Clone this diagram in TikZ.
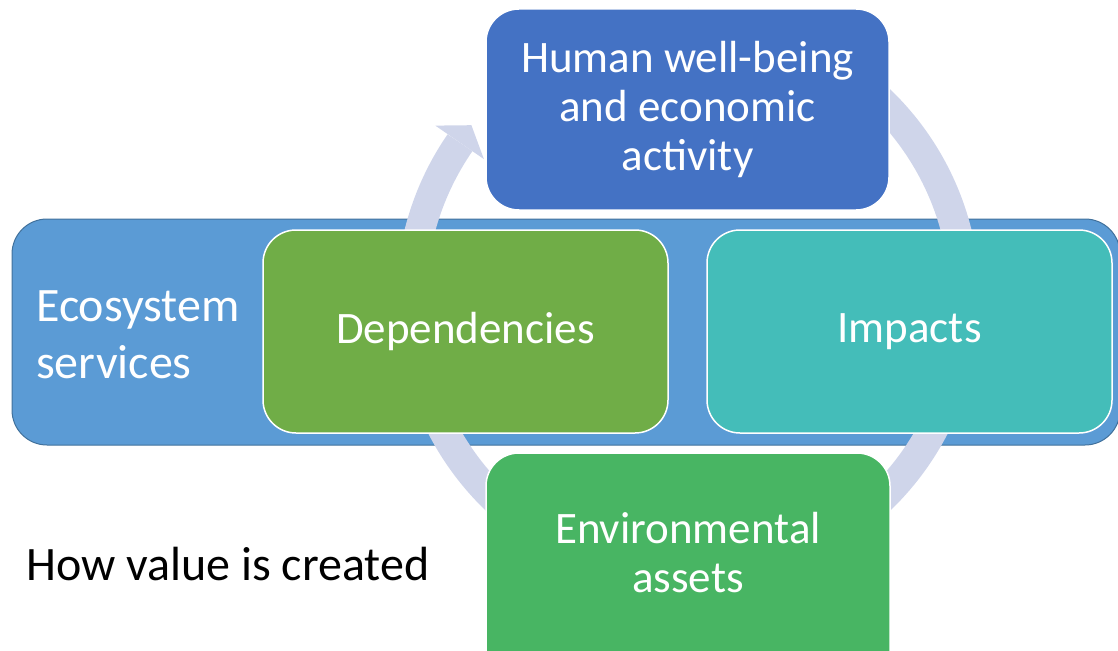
\documentclass[tikz,border=0pt]{standalone}
\usepackage{fontspec}
\setmainfont{Carlito}
\definecolor{bandblue}{HTML}{5B9BD5}
\definecolor{bandedge}{HTML}{41719C}
\definecolor{topblue}{HTML}{4472C4}
\definecolor{depgreen}{HTML}{70AD47}
\definecolor{impteal}{HTML}{44BDB9}
\definecolor{envgreen}{HTML}{48B563}
\definecolor{ringlav}{HTML}{CFD5EA}
\begin{document}
\begin{tikzpicture}[x=1pt,y=-1pt,
  boxtext/.style={text=white, align=center, inner sep=0pt,
    font=\fontsize{45}{49}\selectfont},
  cyclebox/.style={draw=white, line width=1.5pt, rounded corners=33pt,
    minimum width=404pt, minimum height=202pt, boxtext},
  band/.style={fill=bandblue, draw=bandedge, line width=1pt,
    rounded corners=35pt, minimum width=1108pt, minimum height=226pt},
  bigtext/.style={inner sep=0pt, align=left,
    font=\fontsize{48}{57}\selectfont},
  ring/.style={ringlav}
]
\useasboundingbox (0,0) rectangle (1118,650);

% ecosystem services band
\node[band] (eco) at (566,332) {};
\node[bigtext, text=white, anchor=west] (ecotext) at (36,335) {Ecosystem\\services};

% cycle arrow
\coordinate (c) at (688,300);
\draw[ring, line width=30pt] ([shift={(-90:277)}]c)
  arc[start angle=-90, end angle=214.6, radius=277];
\coordinate (hout) at (435.3,125.6);
\coordinate (htip) at (471.4,125.2);
\coordinate (hin) at (483.9,159.1);
\fill[ring] (hout) -- (htip) -- (hin) -- cycle;

% the four stages
\node[cyclebox, fill=topblue, minimum width=403pt, minimum height=201pt]
  (well) at (687.5,109.5) {Human well-being\\and economic\\activity};
\node[cyclebox, fill=depgreen, minimum width=405pt, minimum height=203pt]
  (dep) at (465.5,331.5) {Dependencies};
\node[cyclebox, fill=impteal, minimum width=405pt, minimum height=203pt]
  (imp) at (909.5,331.5) {Impacts};
\node[cyclebox, fill=envgreen, minimum height=247pt]
  (env) at (688,576.5) {};
\node[boxtext] (envtext) at (688,553) {Environmental\\assets};

% caption
\node[bigtext, text=black, anchor=west] (caption) at (26,564) {How value is created};
\end{tikzpicture}
\end{document}
